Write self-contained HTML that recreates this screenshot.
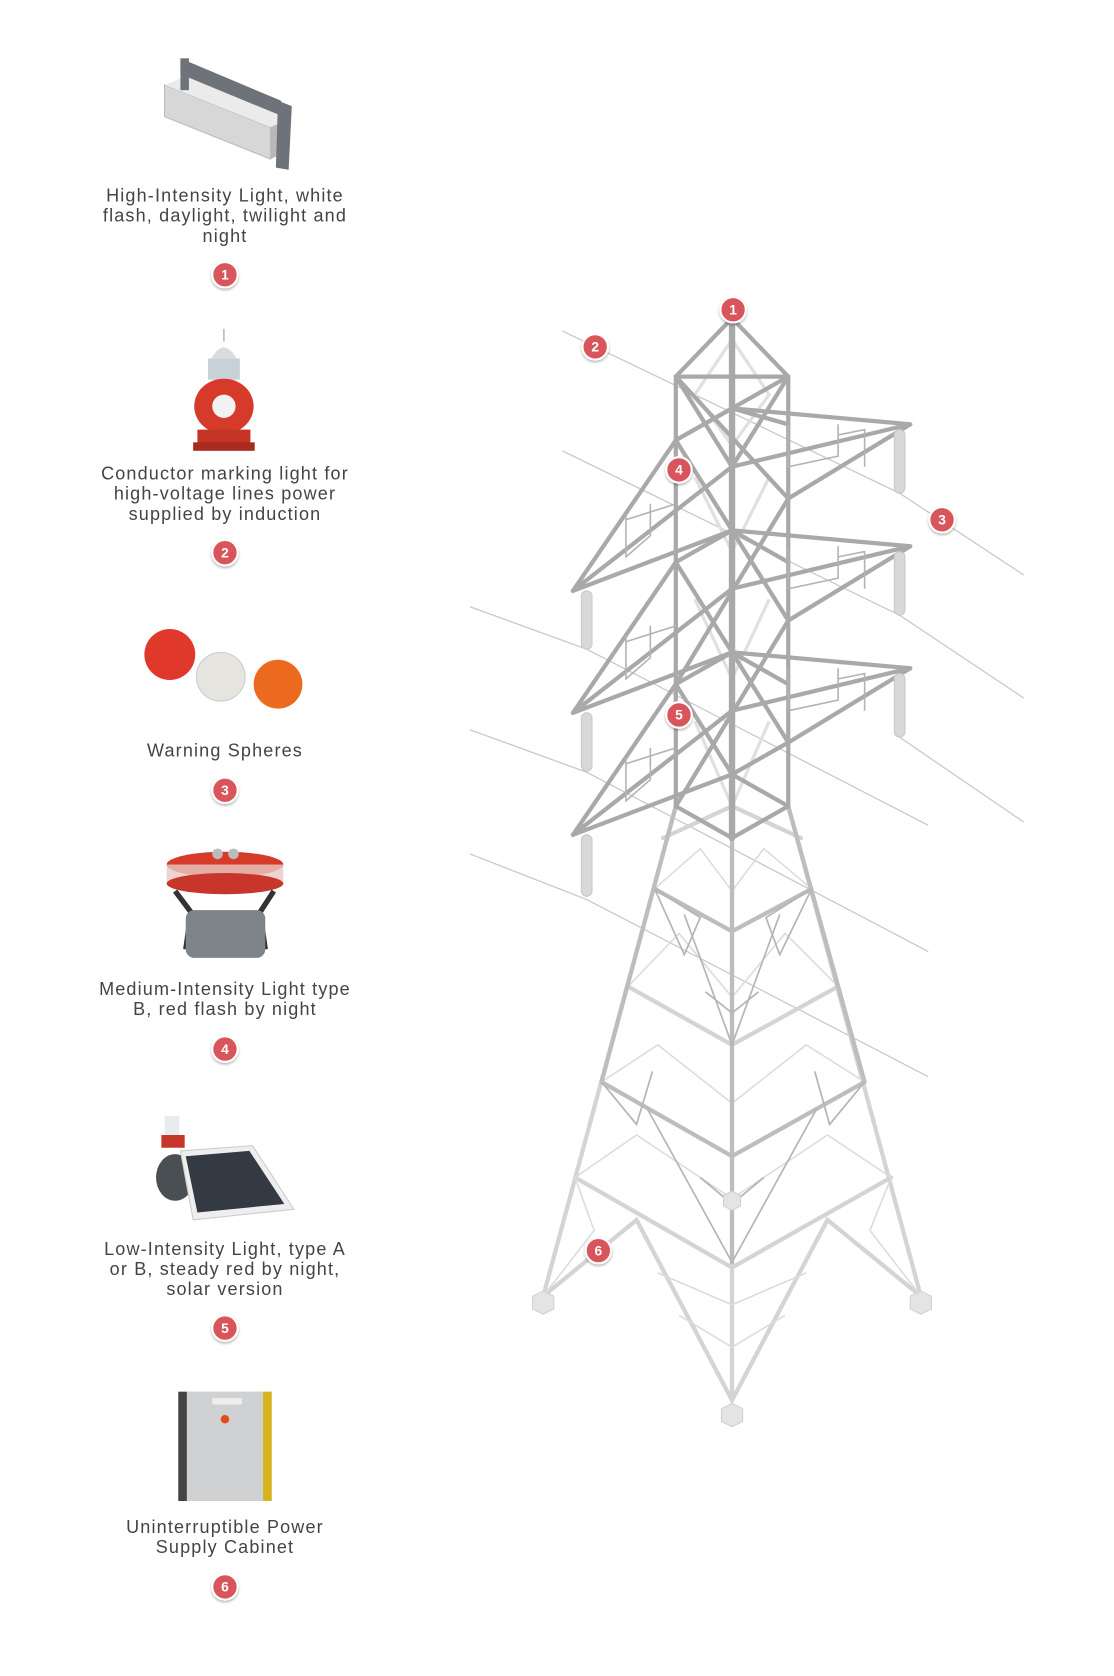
<!DOCTYPE html>
<html><head><meta charset="utf-8"><style>
html,body{margin:0;padding:0;background:#fff;}
svg{display:block}
text{font-family:"Liberation Sans",sans-serif;fill:#444;font-size:17px;letter-spacing:1.1px;text-anchor:middle}
.b text{fill:#fff;font-weight:bold;font-size:13px;letter-spacing:0}
</style></head><body>
<svg width="1114" height="1676" viewBox="0 0 1050 1580" xmlns="http://www.w3.org/2000/svg">
<defs>
<filter id="sh" x="-50%" y="-50%" width="200%" height="200%"><feDropShadow dx="0" dy="1.5" stdDeviation="1.2" flood-color="#000" flood-opacity="0.3"/></filter>
<g id="badge"><circle r="12" fill="#d9545c" stroke="#fff" stroke-width="2" filter="url(#sh)"/></g>
</defs>

<g stroke="#c8c8c8" stroke-width="1.2" fill="none">
<polyline points="530,312 848,465 965,542"/>
<polyline points="530,425 848,580 965,658"/>
<polyline points="848,695 965,775"/>
<polyline points="443,572 553,612 875,778"/>
<polyline points="443,688 553,728 875,897"/>
<polyline points="443,805 553,848 875,1015"/>
</g>

<g stroke="#d4d4d4" stroke-width="4" fill="none" stroke-linecap="round">
<line x1="690" y1="790" x2="690" y2="1320"/>
<line x1="637" y1="760" x2="512" y2="1222"/>
<line x1="743" y1="760" x2="868" y2="1222"/>
<polyline points="592,930 690,985 790,930"/>
<polyline points="542,1110 690,1195 840,1110"/>
<polyline points="512,1222 600,1150 690,1320 780,1150 868,1222"/>
<polyline points="625,790 690,760 755,790"/>
</g>
<g stroke="#dcdcdc" stroke-width="1.5" fill="none">
<polyline points="617,838 660,800 690,840 720,800 765,838"/>
<polyline points="592,930 640,880 690,940 740,880 790,930"/>
<polyline points="567,1020 620,985 690,1040 760,985 815,1020"/>
<polyline points="542,1110 600,1070 690,1130 780,1070 840,1110"/>
<polyline points="512,1222 560,1160 542,1110"/>
<polyline points="868,1222 820,1160 840,1110"/>
<polyline points="640,1240 690,1270 740,1240"/>
<polyline points="620,1200 690,1230 760,1200"/>
</g>
<g stroke="#bdbdbd" stroke-width="4" fill="none" stroke-linecap="round">
<line x1="690" y1="790" x2="690" y2="1190"/>
<line x1="637" y1="760" x2="567" y2="1020"/>
<line x1="743" y1="760" x2="815" y2="1020"/>
<polyline points="617,838 690,878 765,838"/>
<polyline points="567,1020 690,1090 815,1020"/>
</g>
<g stroke="#b5b5b5" stroke-width="1.6" fill="none">
<polyline points="645,862 690,985 735,862"/>
<polyline points="610,1045 690,1190 770,1045"/>
<polyline points="617,838 660,865 645,900 617,838"/>
<polyline points="765,838 722,865 735,900 765,838"/>
<polyline points="567,1020 600,1060 615,1010"/>
<polyline points="815,1020 782,1060 768,1010"/>
<polyline points="660,1110 690,1135 720,1110"/>
<polyline points="665,935 690,955 715,935"/>
</g>
<g fill="#e4e4e4" stroke="#d0d0d0" stroke-width="1">
<path d="M502,1222 l10,-5 l10,5 v12 l-10,5 l-10,-5z"/>
<path d="M858,1222 l10,-5 l10,5 v12 l-10,5 l-10,-5z"/>
<path d="M680,1328 l10,-5 l10,5 v12 l-10,5 l-10,-5z"/>
<path d="M682,1127 l8,-4 l8,4 v10 l-8,4 l-8,-4z"/>
</g>

<g stroke="#e0e0e0" stroke-width="3" fill="none">
<polyline points="690,320 655,372 690,420 725,372 690,320"/>
<polyline points="655,450 690,520 725,450"/>
<polyline points="655,565 690,640 725,565"/>
<polyline points="655,680 690,760 725,680"/>
</g>

<g stroke="#a9a9a9" stroke-width="4" fill="none" stroke-linejoin="round" stroke-linecap="round">
<polyline points="637,760 637,355 690,300 743,355 743,760"/>
<line x1="637" y1="355" x2="743" y2="355"/>
<polyline points="637,760 690,790 743,760"/>
<polyline points="637,355 690,440 743,355"/>
<polyline points="637,355 743,470"/>
<polyline points="743,355 637,415"/>
<polyline points="637,415 690,385 743,400"/>
<polyline points="637,415 743,585"/>
<polyline points="743,470 637,645"/>
<polyline points="637,530 743,700"/>
<polyline points="743,585 637,760"/>
<polyline points="637,645 690,730 743,760"/>
<polyline points="743,700 690,730"/>
<polyline points="637,530 690,500 743,530"/>
<polyline points="637,645 690,615 743,645"/>
<polyline points="690,385 858,400 743,470"/>
<polyline points="690,440 858,400"/>
<polyline points="690,500 858,515 743,585"/>
<polyline points="690,555 858,515"/>
<polyline points="690,615 858,630 743,700"/>
<polyline points="690,670 858,630"/>
<polyline points="637,415 540,557 690,440"/>
<polyline points="540,557 690,500"/>
<polyline points="637,530 540,672 690,555"/>
<polyline points="540,672 690,615"/>
<polyline points="637,645 540,787 690,670"/>
<polyline points="540,787 690,730"/>
</g>
<g stroke="#a9a9a9" stroke-width="6" stroke-linecap="round"><line x1="690" y1="300" x2="690" y2="790"/></g>
<g stroke="#b3b3b3" stroke-width="1.5" fill="none">
<polyline points="743,400 743,440 790,430 790,400"/><polyline points="790,410 815,405 815,440"/>
<polyline points="743,515 743,555 790,545 790,515"/><polyline points="790,525 815,520 815,555"/>
<polyline points="743,630 743,670 790,660 790,630"/><polyline points="790,640 815,635 815,670"/>
<polyline points="590,485 590,525 613,505 613,475"/><polyline points="590,490 637,475"/>
<polyline points="590,600 590,640 613,620 613,590"/><polyline points="590,605 637,590"/>
<polyline points="590,715 590,755 613,735 613,705"/><polyline points="590,720 637,705"/>
</g>
<g fill="#d8d8d8" stroke="#c8c8c8" stroke-width="1">
<rect x="843" y="405" width="10" height="60" rx="5"/>
<rect x="843" y="520" width="10" height="60" rx="5"/>
<rect x="843" y="635" width="10" height="60" rx="5"/>
<rect x="548" y="557" width="10" height="55" rx="5"/>
<rect x="548" y="672" width="10" height="55" rx="5"/>
<rect x="548" y="787" width="10" height="58" rx="5"/>
</g>

<g class="b">
<g transform="translate(691,292)"><use href="#badge"/><text y="4.5">1</text></g>
<g transform="translate(561,327)"><use href="#badge"/><text y="4.5">2</text></g>
<g transform="translate(888,490)"><use href="#badge"/><text y="4.5">3</text></g>
<g transform="translate(640,443)"><use href="#badge"/><text y="4.5">4</text></g>
<g transform="translate(640,674)"><use href="#badge"/><text y="4.5">5</text></g>
<g transform="translate(564,1179)"><use href="#badge"/><text y="4.5">6</text></g>
</g>

<g>
<path d="M170,55 L265,95 L265,110 L170,70Z" fill="#6d7378"/>
<path d="M155,80 L255,120 L255,150 L155,110Z" fill="#d7d7d7" stroke="#bbb"/>
<path d="M155,80 L175,72 L272,112 L255,120Z" fill="#ebebeb"/>
<path d="M255,120 L272,112 L272,142 L255,150Z" fill="#b8b8b8"/>
<rect x="170" y="55" width="8" height="30" fill="#6d7378"/>
<path d="M262,95 L275,100 L272,160 L260,158Z" fill="#6d7378"/>
</g>
<g>
<line x1="211" y1="310" x2="211" y2="322" stroke="#999"/>
<path d="M198,340 Q211,315 224,340Z" fill="#d7dde3"/>
<rect x="196" y="338" width="30" height="20" fill="#c8d0d8"/>
<ellipse cx="211" cy="383" rx="28" ry="26" fill="#d63a2a"/>
<circle cx="211" cy="383" r="11" fill="#f2f2f2"/>
<rect x="186" y="405" width="50" height="14" fill="#c63426"/>
<rect x="182" y="417" width="58" height="8" fill="#a82b20"/>
</g>
<circle cx="160" cy="617" r="24" fill="#e0382a"/>
<circle cx="208" cy="638" r="23" fill="#e6e4de" stroke="#ccc"/>
<circle cx="262" cy="645" r="23" fill="#ec6a1e"/>
<g>
<ellipse cx="212" cy="815" rx="55" ry="12" fill="#d63a2a"/>
<rect x="157" y="815" width="110" height="18" fill="#e9c9c4" opacity="0.8"/>
<ellipse cx="212" cy="833" rx="55" ry="10" fill="#c8352a"/>
<circle cx="205" cy="805" r="5" fill="#bbb"/><circle cx="220" cy="805" r="5" fill="#bbb"/>
<path d="M165,840 L180,860 L175,895 M258,840 L245,860 L250,895" stroke="#333" stroke-width="5" fill="none"/>
<rect x="175" y="858" width="75" height="45" rx="8" fill="#7e858a"/>
</g>
<g>
<rect x="155" y="1052" width="14" height="18" fill="#e6ecf0"/>
<rect x="152" y="1070" width="22" height="12" fill="#c8352a"/>
<ellipse cx="165" cy="1110" rx="18" ry="22" fill="#4a4f54"/>
<path d="M170,1085 L238,1080 L277,1140 L182,1150Z" fill="#eee" stroke="#ccc"/>
<path d="M175,1090 L235,1085 L268,1135 L186,1143Z" fill="#333a44"/>
</g>
<g>
<rect x="168" y="1312" width="88" height="103" fill="#b9bcbf"/>
<rect x="176" y="1312" width="72" height="103" fill="#cfd1d3"/>
<rect x="168" y="1312" width="8" height="103" fill="#444"/>
<rect x="248" y="1312" width="8" height="103" fill="#d8b21a"/>
<circle cx="212" cy="1338" r="4" fill="#e54b1f"/>
<rect x="200" y="1318" width="28" height="6" fill="#eee"/>
</g>

<text x="212" y="190">High-Intensity Light, white</text>
<text x="212" y="209">flash, daylight, twilight and</text>
<text x="212" y="228">night</text>
<text x="212" y="452">Conductor marking light for</text>
<text x="212" y="471">high-voltage lines power</text>
<text x="212" y="490">supplied by induction</text>
<text x="212" y="713">Warning Spheres</text>
<text x="212" y="938">Medium-Intensity Light type</text>
<text x="212" y="957">B, red flash by night</text>
<text x="212" y="1183">Low-Intensity Light, type A</text>
<text x="212" y="1202">or B, steady red by night,</text>
<text x="212" y="1221">solar version</text>
<text x="212" y="1445">Uninterruptible Power</text>
<text x="212" y="1464">Supply Cabinet</text>

<g class="b">
<g transform="translate(212,259)"><use href="#badge"/><text y="4.5">1</text></g>
<g transform="translate(212,521)"><use href="#badge"/><text y="4.5">2</text></g>
<g transform="translate(212,745)"><use href="#badge"/><text y="4.5">3</text></g>
<g transform="translate(212,989)"><use href="#badge"/><text y="4.5">4</text></g>
<g transform="translate(212,1252)"><use href="#badge"/><text y="4.5">5</text></g>
<g transform="translate(212,1496)"><use href="#badge"/><text y="4.5">6</text></g>
</g>
</svg>
</body></html>
